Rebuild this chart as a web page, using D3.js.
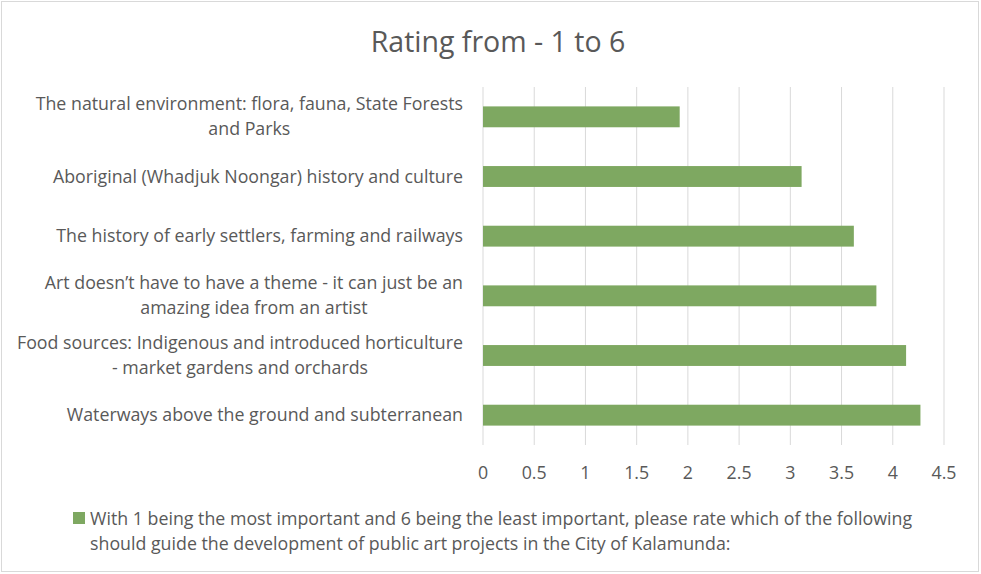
<!DOCTYPE html>
<html>
<head>
<meta charset="utf-8">
<script src="https://cdn.jsdelivr.net/npm/d3@7"></script>
<style>
  body { margin: 0; background: #fff; }
  svg { font-family: "Open Sans", sans-serif; }
</style>
</head>
<body>
<svg width="981" height="574"></svg>
<script>
const categories = [
    ["The natural environment: flora, fauna, State Forests", "and Parks"],
    ["Aboriginal (Whadjuk Noongar) history and culture"],
    ["The history of early settlers, farming and railways"],
    ["Art doesn\u2019t have to have a theme - it can just be an", "amazing idea from an artist"],
    ["Food sources: Indigenous and introduced horticulture", "- market gardens and orchards"],
    ["Waterways above the ground and subterranean"]
];
const values = [1.92, 3.11, 3.62, 3.84, 4.13, 4.27];
const xTicks = [0, 0.5, 1, 1.5, 2, 2.5, 3, 3.5, 4, 4.5];
const title = "Rating from - 1 to 6";
const legendLines = [
    "With 1 being the most important and 6 being the least important, please rate which of the following",
    "should guide the development of public art projects in the City of Kalamunda:"
];

const svg = d3.select("svg");
const margin = { top: 87, right: 37, bottom: 129, left: 483 };
const width = 981 - margin.left - margin.right;
const height = 574 - margin.top - margin.bottom;
const green = "#7ea861";
const textColor = "#595959";
const labelSize = "17.8px";

svg.append("rect")
    .attr("x", 1.5).attr("y", 1.5)
    .attr("width", 977).attr("height", 570)
    .attr("fill", "#fff")
    .attr("stroke", "#d9d9d9");

svg.append("text")
    .attr("x", 498)
    .attr("y", 52)
    .attr("text-anchor", "middle")
    .attr("fill", textColor)
    .attr("font-size", "28.5px")
    .text(title);

const g = svg.append("g").attr("transform", "translate(" + margin.left + "," + margin.top + ")");

const x = d3.scaleLinear()
    .domain([0, 4.5])
    .range([0, width]);

const y = d3.scaleBand()
    .domain(d3.range(categories.length))
    .range([0, height])
    .paddingInner(0.65)
    .paddingOuter(0.325);

// vertical gridlines
g.selectAll(".grid")
    .data(xTicks)
    .enter().append("line")
    .attr("x1", d => x(d)).attr("x2", d => x(d))
    .attr("y1", 0).attr("y2", height)
    .attr("stroke", "#d9d9d9")
    .attr("stroke-width", 1);

g.selectAll(".bar")
    .data(values)
    .enter().append("rect")
    .attr("x", x(0))
    .attr("y", (d, i) => y(i))
    .attr("width", d => x(d) - x(0))
    .attr("height", y.bandwidth())
    .attr("fill", green);

// x tick labels
g.selectAll(".xlab")
    .data(xTicks)
    .enter().append("text")
    .attr("x", d => x(d))
    .attr("y", height + 34)
    .attr("text-anchor", "middle")
    .attr("fill", textColor)
    .attr("font-size", labelSize)
    .text(d => d);

// category labels: block right-aligned, lines centred inside the block
const lineGap = 25;
categories.forEach((lines, i) => {
    const cy = y(i) + y.bandwidth() / 2;
    const startY = cy - (lines.length - 1) * lineGap / 2 + 6;
    const grp = g.append("g");
    const texts = lines.map((t, j) => grp.append("text")
        .attr("y", startY + j * lineGap)
        .attr("text-anchor", "middle")
        .attr("fill", textColor)
        .attr("font-size", labelSize)
        .text(t));
    const w = d3.max(texts, t => t.node().getComputedTextLength());
    texts.forEach(t => t.attr("x", -20 - w / 2));
});

// legend
svg.append("rect")
    .attr("x", 73).attr("y", 512)
    .attr("width", 12).attr("height", 12)
    .attr("fill", green);

legendLines.forEach((t, j) => {
    svg.append("text")
        .attr("x", 90)
        .attr("y", 525 + j * 25)
        .attr("fill", textColor)
        .attr("font-size", labelSize)
        .text(t);
});
</script>
</body>
</html>
